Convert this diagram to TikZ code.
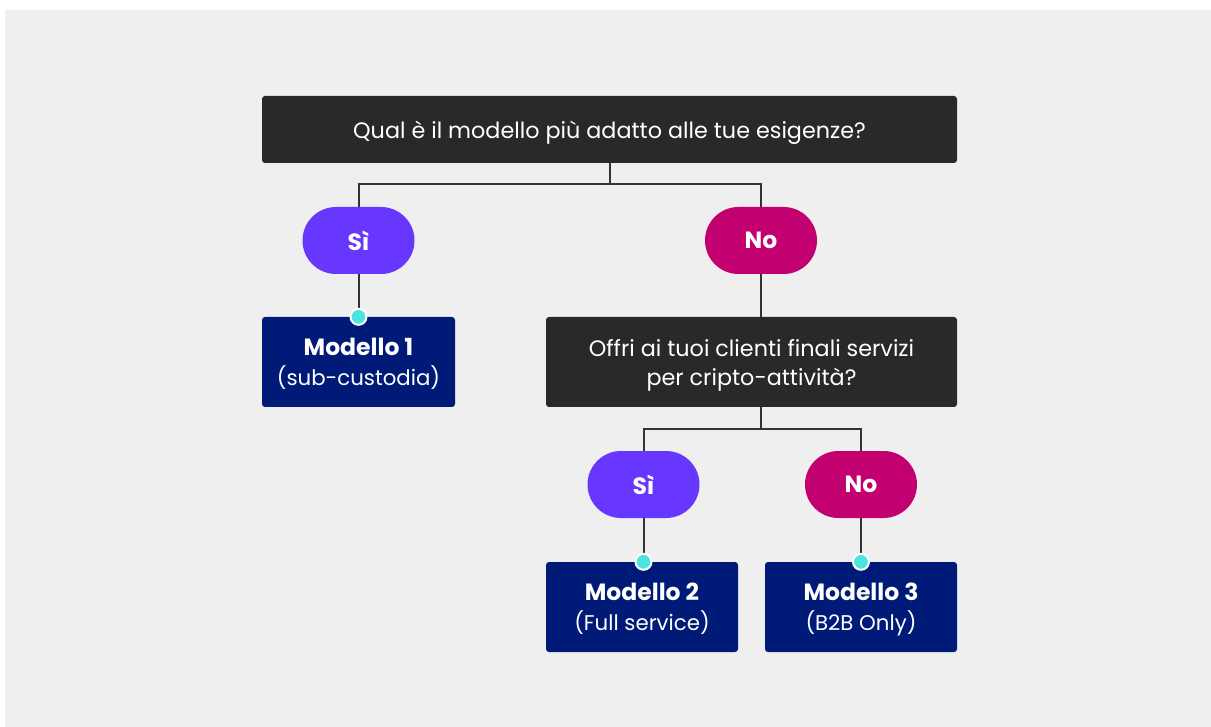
\documentclass[tikz,border=0pt]{standalone}
\usepackage{fontspec}
\setmainfont{Poppins}
\usetikzlibrary{positioning}
\definecolor{bgGray}{HTML}{EFEFEF}
\definecolor{qDark}{HTML}{292929}
\definecolor{siPurple}{HTML}{6737FF}
\definecolor{noMagenta}{HTML}{C2006F}
\definecolor{modelNavy}{HTML}{001A78}
\definecolor{dotCyan}{HTML}{4DE3E3}
\definecolor{lineGray}{HTML}{333333}
\tikzset{
  x=1pt, y=-1pt,
  question/.style={fill=qDark, text=white, rounded corners=3pt, inner sep=0pt,
    text depth=0pt, align=center, font=\fontsize{22.3}{29}\selectfont},
  answer/.style={text=white, rounded corners=33.5pt, minimum width=112pt,
    minimum height=67pt, inner sep=0pt, font=\fontsize{23.5}{29}\selectfont\bfseries},
  model/.style={fill=modelNavy, text=white, rounded corners=3pt, minimum width=193pt,
    minimum height=90pt, inner sep=0pt, text depth=0pt, align=center,
    font=\fontsize{21.3}{30}\selectfont},
  link/.style={draw=lineGray, line width=2pt},
  hook/.style={circle, fill=dotCyan, draw=white, line width=2pt, minimum size=16pt, inner sep=0pt}
}
\newcommand{\modelname}[1]{{\fontsize{23.5}{30}\selectfont\bfseries #1}}
\begin{document}
\begin{tikzpicture}
  \useasboundingbox (0,0) rectangle (1211,727);
  \fill[bgGray] (5,10) rectangle (1211,727);

  \node[question, minimum width=695pt, minimum height=67pt] (q1) at (609.5,129.5)
    {Qual è il modello più adatto alle tue esigenze?};
  \node[answer, fill=siPurple] (si1) at (358.5,240.5) {Sì};
  \node[answer, fill=noMagenta] (no1) at (761,240.5) {No};
  \node[model] (m1) at (358.5,362) {\modelname{Modello 1}\\(sub-custodia)};
  \node[question, minimum width=411pt, minimum height=90pt] (q2) at (751.5,362)
    {Offri ai tuoi clienti finali servizi\\per cripto-attività?};
  \node[answer, fill=siPurple] (si2) at (643.5,484.5) {Sì};
  \node[answer, fill=noMagenta] (no2) at (861,484.5) {No};
  \node[model, minimum width=192pt] (m2) at (642,607) {\modelname{Modello 2}\\(Full service)};
  \node[model, minimum width=192pt] (m3) at (861,607) {\modelname{Modello 3}\\(B2B Only)};

  \coordinate (j1) at (609.5,184);
  \coordinate (j2) at (761,429);

  \draw[link] (q1.south) -- (j1);
  \draw[link] (si1.north) |- (j1) -| (no1.north);
  \draw[link] (no1.south) -- (no1.south |- q2.north);
  \draw[link] (no1.south |- q2.south) -- (j2);
  \draw[link] (si2.north) |- (j2) -| (no2.north);
  \draw[link] (si1.south) -- (m1.north);
  \draw[link] (si2.south) -- (si2.south |- m2.north);
  \draw[link] (no2.south) -- (m3.north);

  \node[hook] (h1) at (m1.north) {};
  \node[hook] (h2) at (si2.south |- m2.north) {};
  \node[hook] (h3) at (m3.north) {};
\end{tikzpicture}
\end{document}
